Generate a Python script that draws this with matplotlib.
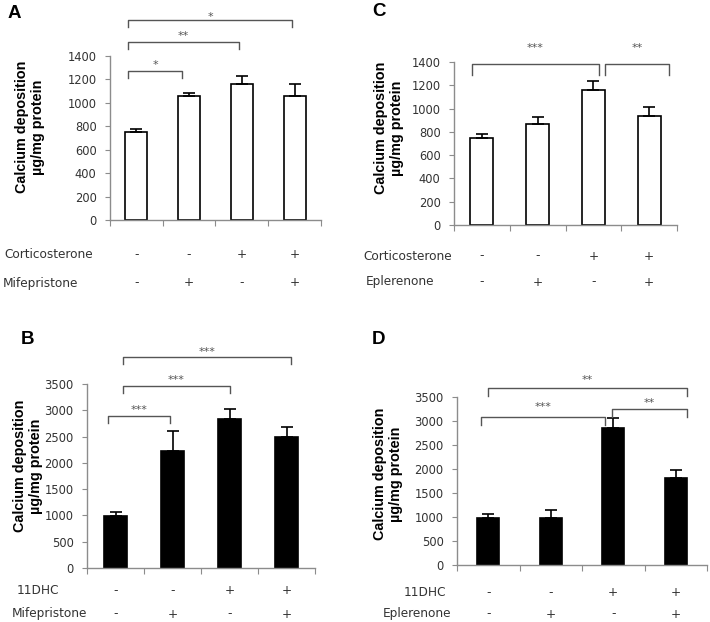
import matplotlib
matplotlib.use("Agg")
import matplotlib.pyplot as plt
import matplotlib.transforms as mtransforms

# ---------------- data ----------------
groups = [0, 1, 2, 3]
signs_row1 = ["-", "-", "+", "+"]
signs_row2 = ["-", "+", "-", "+"]

a_values = [750, 1060, 1160, 1060]
a_errors = [30, 25, 70, 100]
c_values = [750, 865, 1160, 940]
c_errors = [30, 60, 80, 70]
b_values = [980, 2230, 2830, 2500]
b_errors = [85, 375, 200, 190]
d_values = [980, 980, 2850, 1820]
d_errors = [80, 165, 220, 160]

ticks_low = [0, 200, 400, 600, 800, 1000, 1200, 1400]
ticks_high = [0, 500, 1000, 1500, 2000, 2500, 3000, 3500]

# significance brackets: (group i, group j, level, label)
a_sig = [(0, 1, 1270, "*"), (0, 2, 1521, "**"), (0, 3, 1711, "*")]
c_sig = [(0, 2, 1383, "***"), (2, 3, 1383, "**")]
b_sig = [(0, 1, 2897, "***"), (0, 2, 3468, "***"), (0, 3, 4013, "***")]
d_sig = [(0, 2, 3083, "***"), (2, 3, 3256, "**"), (0, 3, 3688, "**")]

W, H = 710, 622
fig = plt.figure(figsize=(W / 100, H / 100), dpi=100)

AX_COLOR = "#8c8c8c"
TXT_COLOR = "#333333"


def px_axes(x0, x1, ytop, ybot):
    return fig.add_axes([x0 / W, 1 - ybot / H, (x1 - x0) / W, (ybot - ytop) / H])


def draw_panel(ax, values, errors, fill, yticks, width, sig, xoffs, drop, star_px):
    ax.bar(groups, values, width=width, color=fill, edgecolor="black",
           linewidth=1.2, zorder=2)
    ax.errorbar(groups, values, yerr=[[0] * len(errors), errors], fmt="none",
                ecolor="black", elinewidth=1.2, capsize=4, capthick=1.2, zorder=3)
    ax.set_xlim(-0.5, 3.5)
    ax.set_ylim(yticks[0], yticks[-1])
    ax.set_yticks(yticks)
    ax.set_xticks([-0.5, 0.5, 1.5, 2.5, 3.5])
    ax.set_xticklabels([])
    for s in ["top", "right"]:
        ax.spines[s].set_visible(False)
    for s in ["left", "bottom"]:
        ax.spines[s].set_color(AX_COLOR)
        ax.spines[s].set_linewidth(1.0)
    ax.tick_params(axis="y", direction="out", length=3.6, color=AX_COLOR,
                   labelsize=8.3, labelcolor=TXT_COLOR, pad=6)
    ax.tick_params(axis="x", direction="out", length=4, color=AX_COLOR)
    for (i, j, lvl, lab), (o0, o1), sp in zip(sig, xoffs, star_px):
        x0, x1 = i + o0, j + o1
        ax.plot([x0, x0, x1, x1], [lvl - drop, lvl, lvl, lvl - drop],
                color="#555555", lw=1.0, clip_on=False, zorder=4)
        ax.annotate(lab, xy=((x0 + x1) / 2, lvl), xytext=(0, (sp - 6.6) * 0.72),
                    textcoords="offset points", ha="center", va="baseline",
                    fontsize=8, color="#555555", annotation_clip=False)


def conditions(ax, name1, name2, x1, x2, y1, y2):
    trans = mtransforms.blended_transform_factory(ax.transData, fig.transFigure)
    for g, s1, s2 in zip(groups, signs_row1, signs_row2):
        ax.text(g, 1 - y1 / H, s1, transform=trans, ha="center", va="center",
                fontsize=8.7, color=TXT_COLOR)
        ax.text(g, 1 - y2 / H, s2, transform=trans, ha="center", va="center",
                fontsize=8.7, color=TXT_COLOR)
    fig.text(x1 / W, 1 - y1 / H, name1, ha="left", va="center", fontsize=8.7,
             color=TXT_COLOR)
    fig.text(x2 / W, 1 - y2 / H, name2, ha="left", va="center", fontsize=8.7,
             color=TXT_COLOR)


def ylabel(xc, yc):
    fig.text(xc / W, 1 - yc / H, "Calcium deposition\nµg/mg protein", rotation=90,
             ha="center", va="center", multialignment="center", linespacing=1.15,
             fontsize=10.4, fontweight="bold", family="Liberation Sans")


def letter(x, y, s):
    fig.text(x / W, 1 - y / H, s, ha="left", va="center", fontsize=13.5,
             fontweight="bold", family="Liberation Sans")


# Panel A
axA = px_axes(110, 321, 56, 220)
draw_panel(axA, a_values, a_errors, "white", ticks_low, 0.42, a_sig,
           [(-0.16, -0.13), (-0.16, -0.06), (-0.16, -0.05)], 60, [10, 9, 6.6])
conditions(axA, "Corticosterone", "Mifepristone", 4, 3, 255, 283)
ylabel(30, 127)
letter(8, 14, "A")

# Panel C
axC = px_axes(454, 677, 62, 225)
draw_panel(axC, c_values, c_errors, "white", ticks_low, 0.41, c_sig,
           [(-0.18, 0.1), (0.2, 0.36)], 94, [20, 20])
conditions(axC, "Corticosterone", "Eplerenone", 363, 366, 256, 282)
ylabel(389, 128)
letter(372, 12, "C")

# Panel B
axB = px_axes(87, 315, 384, 568)
draw_panel(axB, b_values, b_errors, "black", ticks_high, 0.40, b_sig,
           [(-0.13, -0.04), (0.13, 0.0), (0.13, 0.08)], 140, [9, 9, 9])
conditions(axB, "11DHC", "Mifepristone", 17, 12, 591, 614)
ylabel(28, 466)
letter(21, 340, "B")

# Panel D
axD = px_axes(457, 707, 397, 565)
draw_panel(axD, d_values, d_errors, "black", ticks_high, 0.35, d_sig,
           [(-0.12, -0.13), (-0.02, 0.18), (0.0, 0.18)], 170, [14, 9, 12])
conditions(axD, "11DHC", "Eplerenone", 404, 383, 593, 614)
ylabel(388, 474)
letter(372, 339, "D")

fig.savefig("out.png", dpi=100, facecolor="white")
